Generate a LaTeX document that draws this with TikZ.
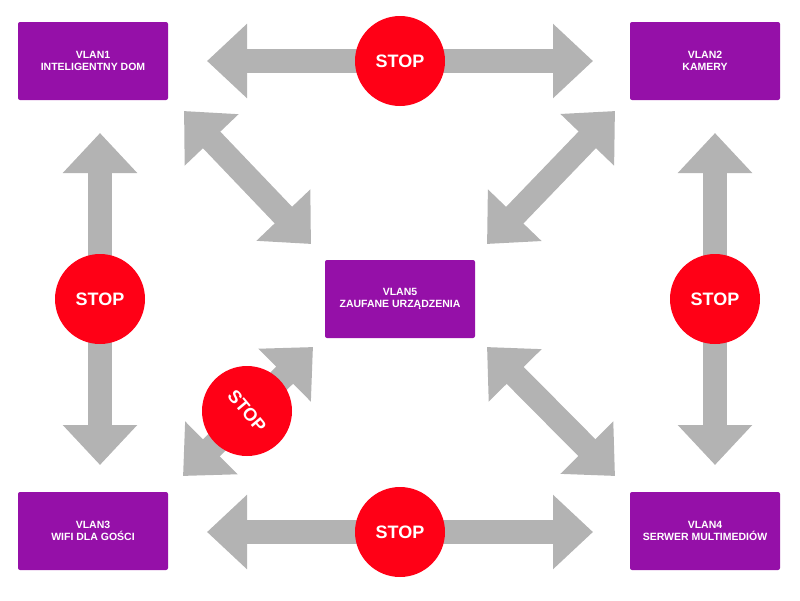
\documentclass[tikz,border=0pt]{standalone}
\usepackage{fontspec}
\setmainfont{Liberation Sans}
\usetikzlibrary{arrows.meta}
\definecolor{vpurple}{HTML}{9510A8}
\definecolor{vred}{HTML}{FF0016}
\definecolor{vgray}{HTML}{B3B3B3}
\begin{document}
\begin{tikzpicture}[x=1pt,y=-1pt,
  box/.style={fill=vpurple,rounded corners=2pt,minimum width=150pt,minimum height=78pt,text=white,font=\bfseries\fontsize{10.5}{12.5}\selectfont,align=center,inner sep=0pt},
  stop/.style={circle,fill=vred,minimum size=90pt,text=white,font=\bfseries\fontsize{18}{20}\selectfont,inner sep=0pt},
  fat/.style={draw=vgray,line width=24pt,{Triangle[length=40pt,width=72pt]}-{Triangle[length=40pt,width=72pt]}}]
\useasboundingbox (0,0) rectangle (800,600);
\node[box] (v1) at (93,61) {VLAN1\\INTELIGENTNY DOM};
\node[box] (v2) at (705,61) {VLAN2\\KAMERY};
\node[box] (v3) at (93,531) {VLAN3\\WIFI DLA GOŚCI};
\node[box] (v4) at (705,531) {VLAN4\\SERWER MULTIMEDIÓW};
\node[box] (v5) at (400,299) {VLAN5\\ZAUFANE URZĄDZENIA};
\coordinate (a1) at (207,61); \coordinate (b1) at (593,61);
\coordinate (a2) at (207,532); \coordinate (b2) at (593,532);
\coordinate (a3) at (100,133); \coordinate (b3) at (100,465);
\coordinate (a4) at (715,133); \coordinate (b4) at (715,465);
\coordinate (a5) at (184,111); \coordinate (b5) at (311,244);
\coordinate (a6) at (615,111); \coordinate (b6) at (487,244);
\coordinate (a7) at (183,476); \coordinate (b7) at (313,347);
\coordinate (a8) at (487,347); \coordinate (b8) at (615,476);
\foreach \i in {1,...,8} \draw[fat] (a\i) -- (b\i);
\node[stop] (s1) at (400,61) {STOP};
\node[stop] (s2) at (400,532) {STOP};
\node[stop] (s3) at (100,299) {STOP};
\node[stop] (s4) at (715,299) {STOP};
\node[stop] (s5) at (247,411) {\rotatebox{-50}{STOP}};
\end{tikzpicture}
\end{document}
